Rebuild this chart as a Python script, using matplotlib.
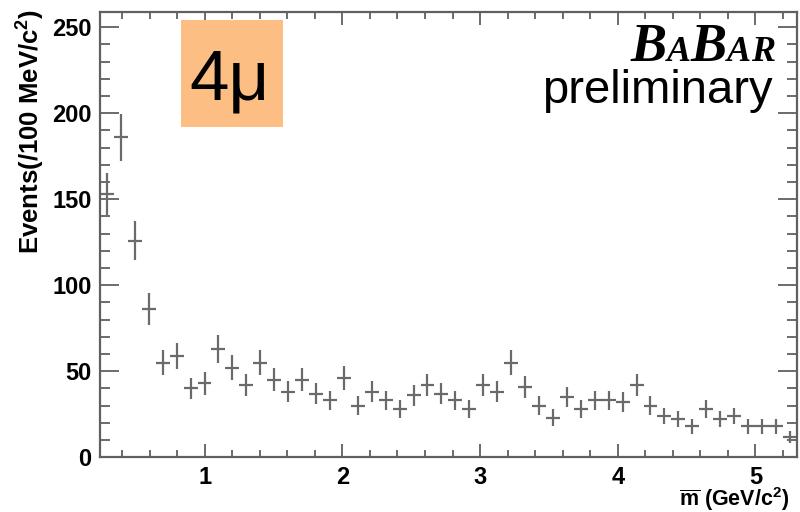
import numpy as np
import matplotlib
matplotlib.use("Agg")
import matplotlib.pyplot as plt
import matplotlib.transforms as mtransforms
from matplotlib.patches import Rectangle
from matplotlib.ticker import MultipleLocator

plt.rcParams["font.family"] = ["Liberation Sans", "DejaVu Sans"]
plt.rcParams["mathtext.fontset"] = "custom"
plt.rcParams["mathtext.rm"] = "Liberation Sans:bold"
plt.rcParams["mathtext.it"] = "Liberation Sans:bold"
plt.rcParams["mathtext.bf"] = "Liberation Sans:bold"

# 50 bins of reconstructed mass, events per bin
bin_lo = 0.24
bin_hi = 5.30
n_bins = 50
counts = [153, 186, 126, 86, 55, 59, 40, 43, 63, 52,
          42, 55, 45, 38, 45, 37, 33, 46, 30, 38,
          33, 28, 36, 42, 37, 33, 28, 42, 38, 55,
          41, 30, 23, 35, 28, 33, 33, 32, 42, 30,
          24, 22, 18, 28, 22, 24, 18, 18, 18, 12]

edges = np.linspace(bin_lo, bin_hi, n_bins + 1)
centers = 0.5 * (edges[:-1] + edges[1:])
half_w = 0.5 * (edges[1] - edges[0])
counts = np.array(counts, dtype=float)
errors = np.sqrt(counts)

fig = plt.figure(figsize=(8, 5.12), dpi=100)
ax = fig.add_axes([0.125, 0.107, 0.871, 0.870])

ax.errorbar(centers, counts, xerr=half_w, yerr=errors, fmt="none",
            ecolor="#6a6a6a", elinewidth=1.6, capsize=0)

ax.set_xlim(bin_lo, bin_hi)
ax.set_ylim(0, 259)

ax.xaxis.set_major_locator(MultipleLocator(1))
ax.xaxis.set_minor_locator(MultipleLocator(0.2))
ax.yaxis.set_major_locator(MultipleLocator(50))
ax.yaxis.set_minor_locator(MultipleLocator(10))

ax.tick_params(axis="both", which="both", direction="in",
               top=True, right=True, color="#606060", width=1.3)
ax.tick_params(axis="x", which="major", length=9.5, pad=6)
ax.tick_params(axis="x", which="minor", length=5)
ax.tick_params(axis="y", which="major", length=14, pad=6)
ax.tick_params(axis="y", which="minor", length=7)
for lbl in ax.get_xticklabels() + ax.get_yticklabels():
    lbl.set_fontsize(17)
    lbl.set_fontweight("bold")

for sp in ax.spines.values():
    sp.set_color("#606060")
    sp.set_linewidth(1.6)

ax.set_ylabel(r"Events(/100 MeV/c$^{2}$)", fontsize=18.5, fontweight="bold",
              loc="top")
ax.yaxis.set_label_coords(-0.076, 1.005)
ax.set_xlabel(r"$\overline{\rm m}$ (GeV/c$^{2}$)", fontsize=15.5,
              fontweight="bold", loc="right")
ax.xaxis.set_label_coords(0.99, -0.063)

# channel tag
fig.patches.append(Rectangle((0.226, 0.752), 0.1275, 0.209,
                             transform=fig.transFigure,
                             facecolor="#fdbe84", edgecolor="none"))
fig.text(0.2875, 0.805, "4\u03bc", fontsize=51, ha="center", va="baseline")

fig.text(0.966, 0.799, "preliminary", fontsize=34, ha="right",
         va="baseline")

# experiment logo, built from large and small capitals
logo = [("B", 39), ("A", 26), ("B", 39), ("A", 26), ("R", 26)]
renderer = fig.canvas.get_renderer()
pieces = []
for ch, size in logo:
    t = fig.text(0, 0.881, ch, fontsize=size, family="Liberation Serif",
                 weight="bold", style="italic", va="baseline")
    pieces.append(t)
widths = [t.get_window_extent(renderer).width for t in pieces]
x = 0.969 * fig.bbox.width - sum(widths)
for t, w in zip(pieces, widths):
    t.set_transform(mtransforms.offset_copy(fig.transFigure, fig=fig,
                                            x=x, units="dots"))
    x += w

fig.savefig("out.png", dpi=100)
